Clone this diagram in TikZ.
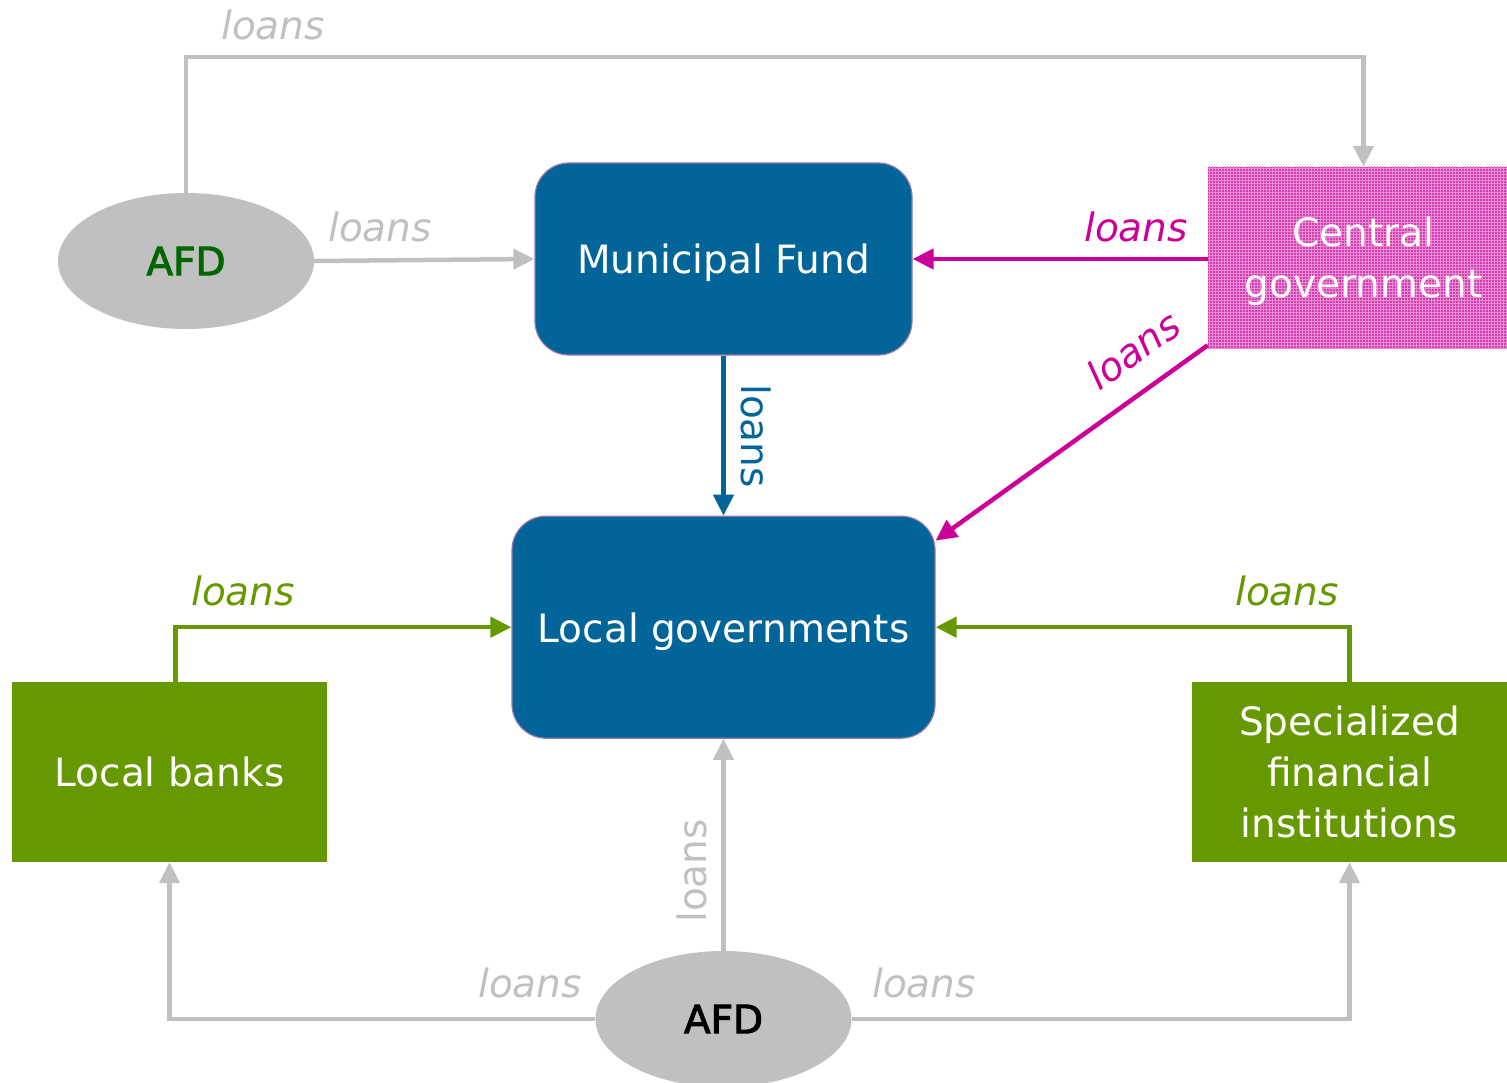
\documentclass[tikz,border=0pt]{standalone}
\usepackage{fontspec}
\setmainfont{DejaVu Sans}
\usetikzlibrary{arrows.meta,shapes.geometric,positioning,patterns}
\definecolor{fundblue}{RGB}{2,101,154}
\definecolor{boxedge}{RGB}{150,120,170}
\definecolor{loangray}{RGB}{192,192,192}
\definecolor{cgpink}{RGB}{210,60,172}
\definecolor{cgline}{RGB}{236,140,215}
\definecolor{cgarrow}{RGB}{204,0,153}
\definecolor{bankgreen}{RGB}{102,153,0}
\definecolor{afdgreen}{RGB}{0,102,0}
\tikzset{
    fund-box/.style={
        rounded corners=34pt,
        fill=fundblue,
        draw=boxedge,
        line width=1.2pt,
        text=white,
        align=center,
        inner sep=0pt,
        text depth=0pt,
        font=\fontsize{39}{51}\selectfont
    },
    flat-box/.style={
        text=white,
        align=center,
        inner sep=0pt,
        minimum height=180pt,
        font=\fontsize{39}{51}\selectfont
    },
    afd-oval/.style={
        ellipse,
        fill=loangray,
        inner sep=0pt,
        minimum width=256pt,
        minimum height=136pt,
        font=\fontsize{39}{48}\selectfont\addfontfeature{FakeBold=2.5}
    },
    loan/.style={
        line width=4.5pt,
        -{Triangle[length=21pt,width=20pt]}
    },
    loan-text/.style={
        inner sep=0pt,
        anchor=base,
        font=\itshape\fontsize{39}{47}\selectfont
    },
    loan-upright/.style={
        inner sep=0pt,
        font=\fontsize{39}{47}\selectfont
    },
}

\begin{document}
\begin{tikzpicture}[x=1pt,y=-1pt]

    \useasboundingbox (0,0) rectangle (1507,1083);

    % funds and governments
    \node[fund-box,minimum width=377pt,minimum height=192pt] (mfund) at (723.5,259) {Municipal Fund};
    \node[fund-box,minimum width=423pt,minimum height=222pt,below=160pt of mfund] (lgov) {Local governments};
    \node[flat-box,fill=cgpink,postaction={pattern=grid,pattern color=cgline},text depth=0pt,
          minimum width=311pt,minimum height=181pt] (cgov) at (1363.5,257.5) {Central\\government};

    % lenders
    \node[flat-box,fill=bankgreen,minimum width=315pt] (lbanks) at (169.5,772) {Local banks};
    \node[flat-box,fill=bankgreen,minimum width=315pt] (sfi) at (1349.5,772) {Specialized\\financial\\institutions};
    \node[afd-oval,text=afdgreen] (afdtop) at (186,261) {AFD};
    \node[afd-oval,text=black,below=212pt of lgov] (afdbot) {AFD};

    \coordinate (afdline) at (186,57);

    % loans
    \draw[loan,loangray] (afdtop.north) -- (afdline) -| (cgov.north);
    \draw[loan,loangray] (afdtop.east) -- (mfund.west);
    \draw[loan,cgarrow] (cgov.west |- mfund.east) -- (mfund.east);
    \draw[loan,cgarrow] ([yshift=3pt]cgov.south west) -- ([yshift=-25pt]lgov.north east);
    \draw[loan,fundblue] (mfund.south) -- (lgov.north);
    \draw[loan,bankgreen] ([xshift=6pt]lbanks.north) |- (lgov.west);
    \draw[loan,bankgreen] (sfi.north) |- (lgov.east);
    \draw[loan,loangray] (afdbot.north) -- (lgov.south);
    \draw[loan,loangray] (afdbot.west) -| (lbanks.south);
    \draw[loan,loangray] (afdbot.east) -| (sfi.south);

    % labels
    \node[loan-text,text=loangray] (ltop) at (273,40) {loans};
    \node[loan-text,text=loangray] (lafd) at (380,242) {loans};
    \node[loan-text,text=cgarrow] (lcg) at (1136,242) {loans};
    \node[loan-text,text=cgarrow,rotate=35.5,anchor=center] (lcgdiag) at (1133,350) {loans};
    \node[loan-upright,text=fundblue,rotate=-90] (lmf) at (756,436) {loans};
    \node[loan-upright,text=loangray,rotate=90] (lafdup) at (692,871) {loans};
    \node[loan-text,text=bankgreen] (lbank) at (243,605) {loans};
    \node[loan-text,text=bankgreen] (lsfi) at (1287,605) {loans};
    \node[loan-text,text=loangray] (lafdl) at (530,997) {loans};
    \node[loan-text,text=loangray] (lafdr) at (924,997) {loans};

\end{tikzpicture}
\end{document}
